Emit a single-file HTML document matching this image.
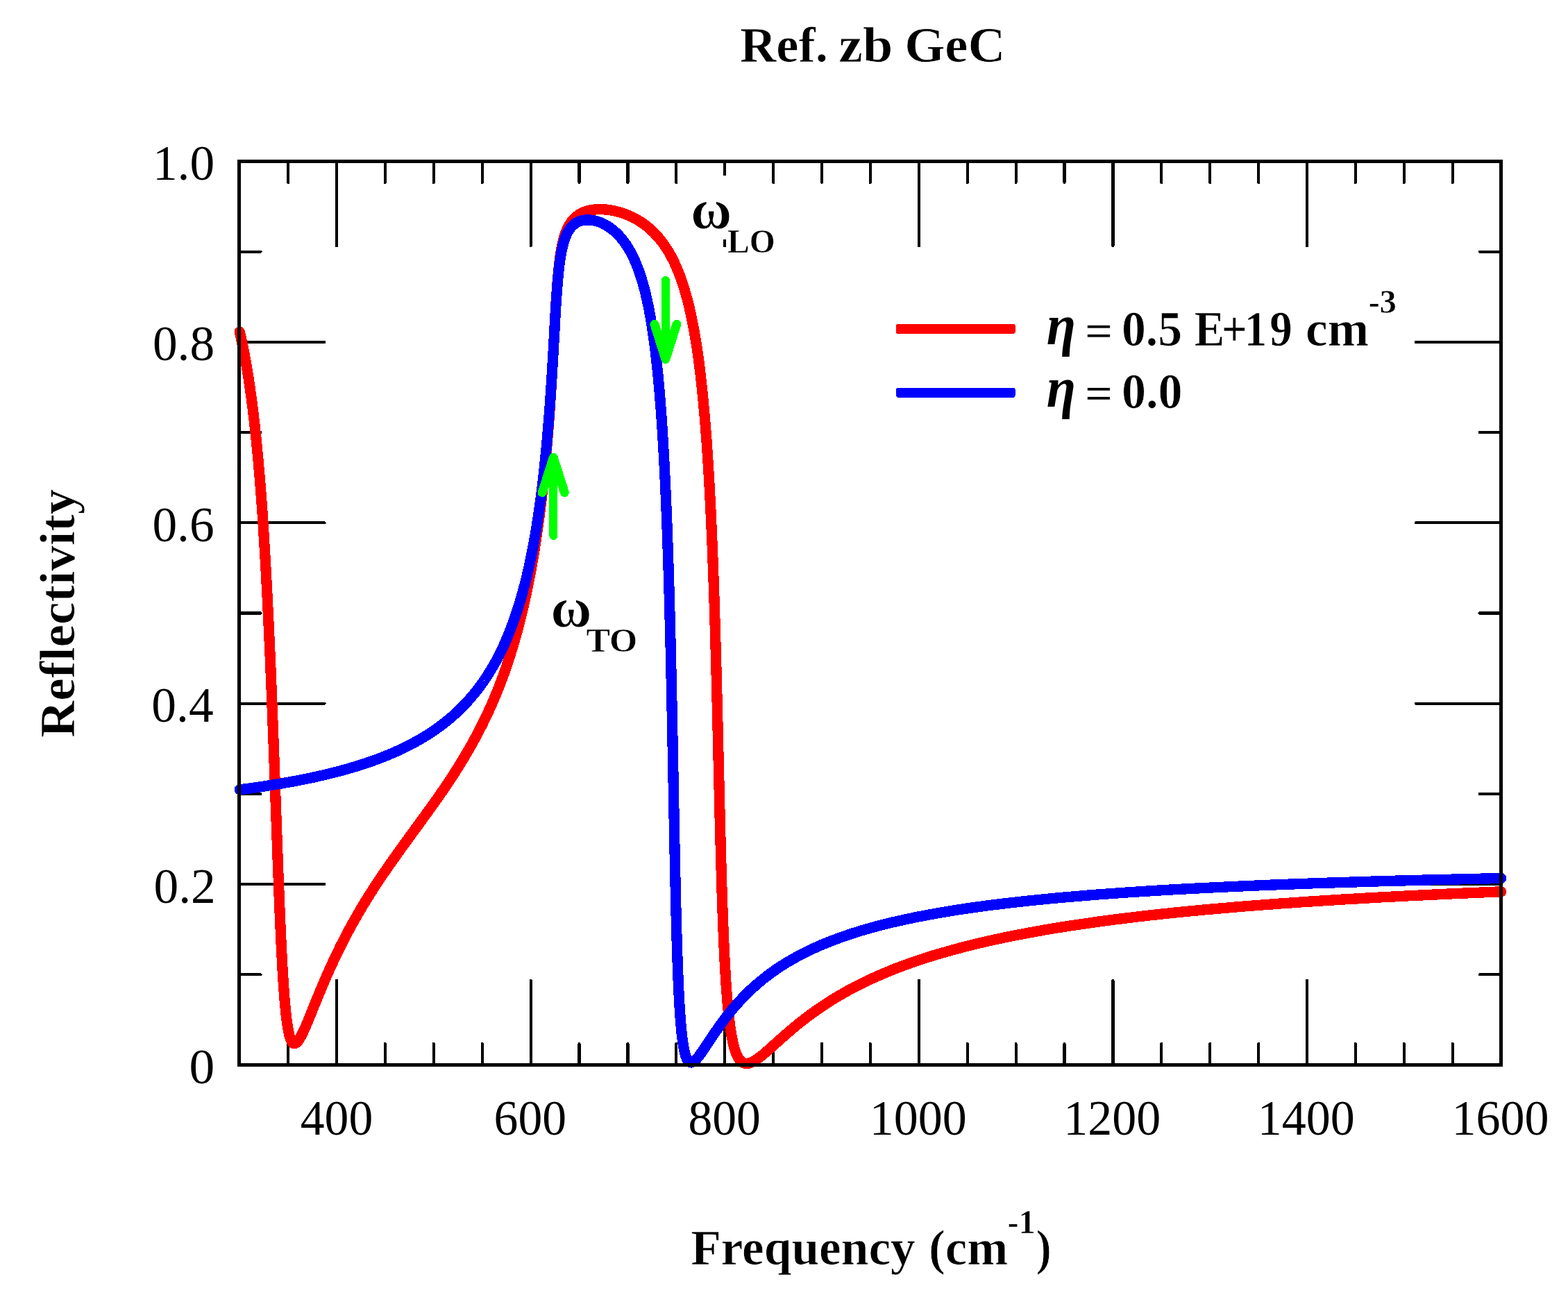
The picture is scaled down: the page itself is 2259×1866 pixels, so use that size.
<!DOCTYPE html>
<html lang="en"><head><meta charset="utf-8"><title>Ref. zb GeC</title>
<style>html,body{margin:0;padding:0;background:#fff;overflow:hidden}svg{display:block}text{font-family:"Liberation Serif",serif;fill:#000;font-size:70px}.b{font-weight:bold;stroke:#fff;stroke-width:.7px}.s{font-weight:bold;font-size:47px;stroke:#fff;stroke-width:.5px}.i{font-weight:bold;font-style:italic}.t{stroke:#000;stroke-width:4.20;stroke-linecap:round;fill:none}.c{fill:none;stroke-width:15.30;stroke-linecap:round;stroke-linejoin:round}.g{fill:none;stroke:#00ff00;stroke-width:12;stroke-linecap:round;stroke-linejoin:round}</style></head><body>
<svg shape-rendering="crispEdges" width="2259" height="1866" viewBox="0 0 2259 1866">
<rect x="0" y="0" width="2259" height="1866" fill="#fff"/>
<path class="t" d="M415.1,232.5v30.4M415.1,1534.5v-30.4M485.0,232.5v121.9M485.0,1534.5v-121.9M554.9,232.5v30.4M554.9,1534.5v-30.4M624.8,232.5v30.4M624.8,1534.5v-30.4M694.7,232.5v30.4M694.7,1534.5v-30.4M764.6,232.5v121.9M764.6,1534.5v-121.9M834.5,232.5v30.4M834.5,1534.5v-30.4M904.4,232.5v30.4M904.4,1534.5v-30.4M974.3,232.5v30.4M974.3,1534.5v-30.4M1044.2,232.5v121.9M1044.2,1534.5v-121.9M1114.1,232.5v30.4M1114.1,1534.5v-30.4M1184.0,232.5v30.4M1184.0,1534.5v-30.4M1253.9,232.5v30.4M1253.9,1534.5v-30.4M1323.8,232.5v121.9M1323.8,1534.5v-121.9M1393.7,232.5v30.4M1393.7,1534.5v-30.4M1463.6,232.5v30.4M1463.6,1534.5v-30.4M1533.5,232.5v30.4M1533.5,1534.5v-30.4M1603.4,232.5v121.9M1603.4,1534.5v-121.9M1673.3,232.5v30.4M1673.3,1534.5v-30.4M1743.2,232.5v30.4M1743.2,1534.5v-30.4M1813.1,232.5v30.4M1813.1,1534.5v-30.4M1883.0,232.5v121.9M1883.0,1534.5v-121.9M1952.9,232.5v30.4M1952.9,1534.5v-30.4M2022.8,232.5v30.4M2022.8,1534.5v-30.4M2092.7,232.5v30.4M2092.7,1534.5v-30.4M344.6,1404.3h30.9M2162.5,1404.3h-30.9M344.6,1274.1h122.9M2162.5,1274.1h-122.9M344.6,1143.9h30.9M2162.5,1143.9h-30.9M344.6,1013.7h122.9M2162.5,1013.7h-122.9M344.6,883.5h30.9M2162.5,883.5h-30.9M344.6,753.3h122.9M2162.5,753.3h-122.9M344.6,623.1h30.9M2162.5,623.1h-30.9M344.6,492.9h122.9M2162.5,492.9h-122.9M344.6,362.7h30.9M2162.5,362.7h-30.9"/>
<rect x="996" y="253" width="58" height="92" fill="#fff"/>
<path class="c" stroke="#ff0000" d="M345.2,478.1 L345.9,481.1 L346.6,484.1 L347.3,487.2 L348.0,490.4 L348.7,493.6 L349.4,496.9 L350.1,500.3 L350.8,503.8 L351.5,507.4 L352.2,511.0 L352.9,514.7 L353.6,518.5 L354.3,522.4 L355.0,526.4 L355.7,530.5 L356.4,534.7 L357.1,539.0 L357.8,543.4 L358.5,547.9 L359.2,552.5 L359.9,557.3 L360.6,562.2 L361.3,567.2 L362.0,572.3 L362.7,577.6 L363.4,583.0 L364.1,588.5 L364.8,594.2 L365.5,600.1 L366.2,606.1 L366.9,612.3 L367.6,618.7 L368.3,625.2 L369.0,631.9 L369.7,638.9 L370.4,646.0 L371.1,653.3 L371.8,660.9 L372.5,668.7 L373.2,676.7 L373.9,684.9 L374.6,693.4 L375.3,702.2 L376.0,711.2 L376.7,720.5 L377.4,730.1 L378.1,740.0 L378.8,750.2 L379.5,760.7 L380.1,771.5 L380.8,782.7 L381.5,794.2 L382.2,806.1 L382.9,818.4 L383.6,831.1 L384.3,844.1 L385.0,857.6 L385.7,871.4 L386.4,885.7 L387.1,900.4 L387.8,915.5 L388.5,931.1 L389.2,947.1 L389.9,963.5 L390.6,980.4 L391.3,997.7 L392.0,1015.3 L392.7,1033.4 L393.4,1051.8 L394.1,1070.6 L394.8,1089.6 L395.5,1108.9 L396.2,1128.3 L396.9,1147.9 L397.6,1167.6 L398.3,1187.2 L399.0,1206.7 L399.7,1226.1 L400.4,1245.1 L401.1,1263.8 L401.8,1282.0 L402.5,1299.7 L403.2,1316.7 L403.9,1333.0 L404.6,1348.5 L405.3,1363.3 L406.0,1377.1 L406.7,1390.1 L407.4,1402.2 L408.1,1413.4 L408.8,1423.8 L409.5,1433.3 L410.2,1442.0 L410.9,1449.9 L411.6,1457.1 L412.3,1463.5 L413.0,1469.4 L413.7,1474.6 L414.4,1479.2 L415.1,1483.3 L415.8,1487.0 L416.5,1490.1 L417.2,1492.9 L417.9,1495.3 L418.6,1497.3 L419.3,1499.0 L420.0,1500.4 L420.7,1501.5 L421.4,1502.4 L422.1,1503.0 L422.8,1503.4 L423.5,1503.7 L424.2,1503.7 L424.9,1503.6 L425.6,1503.4 L426.3,1503.0 L427.0,1502.5 L427.7,1501.9 L428.4,1501.1 L429.1,1500.3 L429.8,1499.4 L430.5,1498.4 L431.2,1497.3 L431.9,1496.2 L432.6,1495.0 L433.3,1493.8 L434.0,1492.5 L434.7,1491.1 L435.4,1489.7 L436.1,1488.3 L436.8,1486.8 L437.5,1485.4 L438.2,1483.8 L438.9,1482.3 L439.6,1480.7 L440.3,1479.1 L441.0,1477.5 L441.7,1475.9 L442.4,1474.2 L443.1,1472.6 L443.8,1470.9 L444.5,1469.2 L445.2,1467.5 L445.9,1465.8 L446.6,1464.1 L447.3,1462.4 L448.0,1460.7 L448.7,1459.0 L449.4,1457.3 L450.0,1455.5 L450.7,1453.8 L451.4,1452.1 L452.1,1450.4 L452.8,1448.6 L453.5,1446.9 L454.2,1445.2 L454.9,1443.5 L455.6,1441.8 L456.3,1440.0 L457.0,1438.3 L457.7,1436.6 L458.4,1434.9 L459.1,1433.2 L459.8,1431.5 L460.5,1429.9 L461.2,1428.2 L461.9,1426.5 L462.6,1424.8 L463.3,1423.2 L464.0,1421.5 L464.7,1419.8 L465.4,1418.2 L466.1,1416.6 L466.8,1414.9 L467.5,1413.3 L468.2,1411.7 L468.9,1410.1 L469.6,1408.5 L470.3,1406.9 L471.0,1405.3 L471.7,1403.7 L472.4,1402.1 L473.1,1400.5 L473.8,1399.0 L474.5,1397.4 L475.2,1395.8 L475.9,1394.3 L476.6,1392.8 L477.3,1391.2 L478.0,1389.7 L478.7,1388.2 L479.4,1386.7 L480.1,1385.2 L480.8,1383.7 L481.5,1382.2 L482.2,1380.7 L482.9,1379.2 L483.6,1377.8 L484.3,1376.3 L485.0,1374.8 L485.7,1373.4 L486.4,1371.9 L487.1,1370.5 L487.8,1369.1 L488.5,1367.7 L489.2,1366.2 L489.9,1364.8 L490.6,1363.4 L491.3,1362.0 L492.0,1360.6 L492.7,1359.3 L493.4,1357.9 L494.1,1356.5 L494.8,1355.1 L495.5,1353.8 L496.2,1352.4 L496.9,1351.1 L497.6,1349.7 L498.3,1348.4 L499.0,1347.1 L499.7,1345.7 L500.4,1344.4 L501.1,1343.1 L501.8,1341.8 L502.5,1340.5 L503.2,1339.2 L503.9,1337.9 L504.6,1336.6 L505.3,1335.4 L506.0,1334.1 L506.7,1332.8 L507.4,1331.5 L508.1,1330.3 L508.8,1329.0 L509.5,1327.8 L510.2,1326.5 L510.9,1325.3 L511.6,1324.1 L512.3,1322.8 L513.0,1321.6 L515.8,1316.8 L518.6,1312.0 L521.3,1307.3 L524.1,1302.6 L526.9,1298.1 L529.7,1293.6 L532.5,1289.1 L535.3,1284.7 L538.1,1280.3 L540.9,1276.0 L543.7,1271.8 L546.5,1267.6 L549.3,1263.4 L552.1,1259.3 L554.9,1255.2 L557.7,1251.1 L560.5,1247.1 L563.3,1243.1 L566.1,1239.1 L568.9,1235.2 L571.7,1231.2 L574.5,1227.3 L577.3,1223.4 L580.1,1219.6 L582.9,1215.7 L585.7,1211.9 L588.5,1208.0 L591.2,1204.2 L594.0,1200.4 L596.8,1196.5 L599.6,1192.7 L602.4,1188.9 L605.2,1185.0 L608.0,1181.2 L610.8,1177.3 L613.6,1173.5 L616.4,1169.6 L619.2,1165.7 L622.0,1161.8 L624.8,1157.9 L627.6,1154.0 L630.4,1150.0 L633.2,1146.0 L636.0,1141.9 L638.8,1137.9 L641.6,1133.8 L644.4,1129.6 L647.2,1125.5 L650.0,1121.2 L652.8,1116.9 L655.6,1112.6 L658.4,1108.2 L661.1,1103.8 L663.9,1099.3 L666.7,1094.7 L669.5,1090.0 L672.3,1085.3 L675.1,1080.5 L677.9,1075.6 L680.7,1070.6 L683.5,1065.5 L686.3,1060.4 L689.1,1055.1 L691.9,1049.6 L694.7,1044.1 L697.5,1038.4 L700.3,1032.6 L703.1,1026.7 L705.9,1020.5 L708.7,1014.2 L711.5,1007.8 L714.3,1001.1 L717.1,994.2 L719.9,987.1 L722.7,979.8 L725.5,972.2 L728.3,964.4 L731.0,956.2 L733.8,947.8 L736.6,939.0 L739.4,929.8 L742.2,920.2 L745.0,910.2 L747.8,899.7 L750.6,888.6 L753.4,877.0 L756.2,864.8 L759.0,851.8 L761.8,838.0 L764.6,823.4 L765.3,819.6 L766.0,815.7 L766.7,811.7 L767.4,807.7 L768.1,803.6 L768.8,799.5 L769.5,795.2 L770.2,790.9 L770.9,786.5 L771.6,782.0 L772.3,777.4 L773.0,772.8 L773.7,768.0 L774.4,763.1 L775.1,758.2 L775.8,753.1 L776.5,747.9 L777.2,742.6 L777.9,737.2 L778.6,731.6 L779.3,725.9 L780.0,720.1 L780.7,714.1 L781.4,708.0 L782.1,701.7 L782.8,695.3 L783.5,688.6 L784.2,681.8 L784.9,674.8 L785.6,667.6 L786.3,660.1 L787.0,652.5 L787.7,644.5 L788.4,636.4 L789.1,627.9 L789.8,619.2 L790.5,610.1 L791.2,600.8 L791.9,591.1 L792.6,581.0 L793.3,570.6 L794.0,559.8 L794.7,548.6 L795.4,537.1 L796.1,525.2 L796.8,513.0 L797.5,500.5 L798.2,487.9 L798.9,475.3 L799.5,462.8 L800.2,450.7 L800.9,439.0 L801.6,428.0 L802.3,417.9 L803.0,408.5 L803.7,400.0 L804.4,392.4 L805.1,385.5 L805.8,379.3 L806.5,373.7 L807.2,368.7 L807.9,364.1 L808.6,360.0 L809.3,356.2 L810.0,352.8 L810.7,349.7 L811.4,346.8 L812.1,344.1 L812.8,341.7 L813.5,339.4 L814.2,337.3 L814.9,335.3 L815.6,333.5 L816.3,331.8 L817.0,330.2 L817.7,328.7 L818.4,327.3 L819.1,325.9 L819.8,324.7 L820.5,323.5 L821.2,322.4 L821.9,321.3 L822.6,320.3 L823.3,319.4 L824.0,318.5 L824.7,317.6 L825.4,316.8 L826.1,316.0 L826.8,315.3 L827.5,314.6 L828.2,313.9 L828.9,313.2 L829.6,312.6 L830.3,312.0 L831.0,311.5 L831.7,311.0 L832.4,310.4 L833.1,310.0 L833.8,309.5 L834.5,309.0 L835.2,308.6 L835.9,308.2 L836.6,307.8 L837.3,307.4 L838.0,307.1 L838.7,306.8 L839.4,306.4 L840.1,306.1 L840.8,305.8 L841.5,305.5 L842.2,305.3 L842.9,305.0 L843.6,304.8 L844.3,304.5 L845.0,304.3 L845.7,304.1 L846.4,303.9 L847.1,303.7 L847.8,303.5 L848.5,303.4 L849.2,303.2 L849.9,303.0 L850.6,302.9 L851.3,302.8 L852.0,302.6 L852.7,302.5 L853.4,302.4 L854.1,302.3 L854.8,302.2 L855.5,302.1 L856.2,302.1 L856.9,302.0 L857.6,301.9 L858.3,301.9 L859.0,301.8 L859.7,301.8 L860.4,301.7 L861.1,301.7 L861.8,301.7 L862.5,301.6 L863.2,301.6 L863.9,301.6 L864.6,301.6 L865.3,301.6 L866.0,301.6 L866.7,301.7 L867.4,301.7 L868.1,301.7 L868.8,301.7 L869.5,301.8 L870.1,301.8 L870.8,301.9 L871.5,301.9 L872.2,302.0 L872.9,302.0 L873.6,302.1 L874.3,302.2 L875.0,302.3 L875.7,302.3 L876.4,302.4 L877.1,302.5 L877.8,302.6 L878.5,302.7 L879.2,302.8 L879.9,302.9 L880.6,303.1 L881.3,303.2 L882.0,303.3 L882.7,303.4 L883.4,303.6 L884.1,303.7 L884.8,303.9 L885.5,304.0 L886.2,304.2 L886.9,304.3 L887.6,304.5 L888.3,304.7 L889.0,304.9 L889.7,305.0 L890.4,305.2 L891.1,305.4 L891.8,305.6 L892.5,305.8 L893.2,306.0 L893.9,306.2 L894.6,306.4 L895.3,306.6 L896.0,306.9 L896.7,307.1 L897.4,307.3 L898.1,307.6 L898.8,307.8 L899.5,308.1 L900.2,308.3 L900.9,308.6 L901.6,308.8 L902.3,309.1 L903.0,309.4 L903.7,309.7 L904.4,310.0 L905.1,310.2 L905.8,310.5 L906.5,310.8 L907.2,311.1 L907.9,311.5 L908.6,311.8 L909.3,312.1 L910.0,312.4 L910.7,312.8 L911.4,313.1 L912.1,313.5 L912.8,313.8 L913.5,314.2 L914.2,314.5 L914.9,314.9 L915.6,315.3 L916.3,315.7 L917.0,316.1 L917.7,316.5 L918.4,316.9 L919.1,317.3 L919.8,317.7 L920.5,318.1 L921.2,318.5 L921.9,319.0 L922.6,319.4 L923.3,319.9 L924.0,320.3 L924.7,320.8 L925.4,321.3 L926.1,321.8 L926.8,322.2 L927.5,322.7 L928.2,323.2 L928.9,323.8 L929.6,324.3 L930.3,324.8 L931.0,325.3 L931.7,325.9 L932.4,326.5 L933.1,327.0 L933.8,327.6 L934.5,328.2 L935.2,328.8 L935.9,329.4 L936.6,330.0 L937.3,330.6 L938.0,331.2 L938.7,331.9 L939.3,332.5 L940.0,333.2 L940.7,333.9 L941.4,334.5 L942.1,335.2 L942.8,336.0 L943.5,336.7 L944.2,337.4 L944.9,338.1 L945.6,338.9 L946.3,339.7 L947.0,340.4 L947.7,341.2 L948.4,342.0 L949.1,342.9 L949.8,343.7 L950.5,344.5 L951.2,345.4 L951.9,346.3 L952.6,347.2 L953.3,348.1 L954.0,349.0 L954.7,350.0 L955.4,350.9 L956.1,351.9 L956.8,352.9 L957.5,353.9 L958.2,354.9 L958.9,355.9 L959.6,357.0 L960.3,358.1 L961.0,359.2 L961.7,360.3 L962.4,361.5 L963.1,362.6 L963.8,363.8 L964.5,365.0 L965.2,366.2 L965.9,367.5 L966.6,368.8 L967.3,370.1 L968.0,371.4 L968.7,372.8 L969.4,374.1 L970.1,375.5 L970.8,377.0 L971.5,378.4 L972.2,379.9 L972.9,381.5 L973.6,383.0 L974.3,384.6 L975.0,386.2 L975.7,387.9 L976.4,389.5 L977.1,391.3 L977.8,393.0 L978.5,394.8 L979.2,396.6 L979.9,398.5 L980.6,400.4 L981.3,402.4 L982.0,404.4 L982.7,406.4 L983.4,408.5 L984.1,410.7 L984.8,412.9 L985.5,415.1 L986.2,417.4 L986.9,419.8 L987.6,422.2 L988.3,424.6 L989.0,427.1 L989.7,429.7 L990.4,432.4 L991.1,435.1 L991.8,437.9 L992.5,440.8 L993.2,443.7 L993.9,446.7 L994.6,449.8 L995.3,453.0 L996.0,456.2 L996.7,459.6 L997.4,463.0 L998.1,466.6 L998.8,470.2 L999.5,473.9 L1000.2,477.8 L1000.9,481.8 L1001.6,485.9 L1002.3,490.1 L1003.0,494.4 L1003.7,498.9 L1004.4,503.5 L1005.1,508.3 L1005.8,513.2 L1006.5,518.3 L1007.2,523.5 L1007.9,529.0 L1008.6,534.6 L1009.2,540.4 L1009.9,546.4 L1010.6,552.7 L1011.3,559.1 L1012.0,565.8 L1012.7,572.8 L1013.4,580.0 L1014.1,587.6 L1014.8,595.4 L1015.5,603.5 L1016.2,612.0 L1016.9,620.9 L1017.6,630.1 L1018.3,639.7 L1019.0,649.8 L1019.7,660.3 L1020.4,671.3 L1021.1,682.9 L1021.8,695.0 L1022.5,707.7 L1023.2,721.1 L1023.9,735.1 L1024.6,749.9 L1025.3,765.5 L1026.0,782.0 L1026.7,799.3 L1027.4,817.7 L1028.1,837.1 L1028.8,857.5 L1029.5,879.2 L1030.2,902.0 L1030.9,926.1 L1031.6,951.4 L1032.3,977.8 L1033.0,1005.4 L1033.7,1033.9 L1034.4,1063.1 L1035.1,1092.7 L1035.8,1122.4 L1036.5,1151.8 L1037.2,1180.4 L1037.9,1208.0 L1038.6,1234.2 L1039.3,1258.9 L1040.0,1282.0 L1040.7,1303.3 L1041.4,1323.0 L1042.1,1341.1 L1042.8,1357.7 L1043.5,1372.8 L1044.2,1386.6 L1044.9,1399.3 L1045.6,1410.8 L1046.3,1421.4 L1047.0,1431.0 L1047.7,1439.8 L1048.4,1447.9 L1049.1,1455.3 L1049.8,1462.1 L1050.5,1468.3 L1051.2,1474.0 L1051.9,1479.3 L1052.6,1484.1 L1053.3,1488.5 L1054.0,1492.6 L1054.7,1496.4 L1055.4,1499.8 L1056.1,1503.0 L1056.8,1505.9 L1057.5,1508.6 L1058.2,1511.0 L1058.9,1513.3 L1059.6,1515.4 L1060.3,1517.3 L1061.0,1519.0 L1061.7,1520.6 L1062.4,1522.1 L1063.1,1523.4 L1063.8,1524.6 L1064.5,1525.7 L1065.2,1526.7 L1065.9,1527.5 L1066.6,1528.3 L1067.3,1529.0 L1068.0,1529.7 L1068.7,1530.2 L1069.4,1530.7 L1070.1,1531.1 L1070.8,1531.5 L1071.5,1531.8 L1072.2,1532.0 L1072.9,1532.2 L1073.6,1532.3 L1074.3,1532.4 L1075.0,1532.5 L1075.7,1532.5 L1076.4,1532.4 L1077.1,1532.4 L1077.8,1532.3 L1078.5,1532.1 L1079.1,1532.0 L1079.8,1531.8 L1080.5,1531.6 L1081.2,1531.3 L1081.9,1531.0 L1082.6,1530.7 L1083.3,1530.4 L1084.0,1530.1 L1084.7,1529.7 L1085.4,1529.4 L1086.1,1529.0 L1086.8,1528.6 L1087.5,1528.2 L1088.2,1527.7 L1088.9,1527.3 L1089.6,1526.8 L1090.3,1526.4 L1091.0,1525.9 L1091.7,1525.4 L1092.4,1524.9 L1093.1,1524.4 L1093.8,1523.8 L1094.5,1523.3 L1095.2,1522.8 L1095.9,1522.2 L1096.6,1521.7 L1097.3,1521.1 L1098.0,1520.5 L1098.7,1520.0 L1099.4,1519.4 L1100.1,1518.8 L1100.8,1518.2 L1101.5,1517.6 L1102.2,1517.1 L1102.9,1516.5 L1103.6,1515.9 L1104.3,1515.2 L1105.0,1514.6 L1105.7,1514.0 L1106.4,1513.4 L1107.1,1512.8 L1107.8,1512.2 L1108.5,1511.6 L1109.2,1511.0 L1109.9,1510.3 L1110.6,1509.7 L1111.3,1509.1 L1112.0,1508.5 L1112.7,1507.8 L1113.4,1507.2 L1114.1,1506.6 L1114.8,1506.0 L1115.5,1505.3 L1116.2,1504.7 L1116.9,1504.1 L1117.6,1503.4 L1118.3,1502.8 L1119.0,1502.2 L1119.7,1501.6 L1120.4,1500.9 L1121.1,1500.3 L1121.8,1499.7 L1122.5,1499.1 L1123.2,1498.4 L1123.9,1497.8 L1124.6,1497.2 L1125.3,1496.6 L1126.0,1495.9 L1126.7,1495.3 L1127.4,1494.7 L1128.1,1494.1 L1135.1,1488.0 L1142.1,1482.0 L1149.0,1476.3 L1156.0,1470.7 L1163.0,1465.3 L1170.0,1460.2 L1177.0,1455.2 L1184.0,1450.4 L1191.0,1445.7 L1198.0,1441.3 L1205.0,1437.0 L1212.0,1432.9 L1219.0,1428.9 L1225.9,1425.1 L1232.9,1421.4 L1239.9,1417.9 L1246.9,1414.5 L1253.9,1411.2 L1260.9,1408.0 L1267.9,1404.9 L1274.9,1401.9 L1281.9,1399.0 L1288.8,1396.2 L1295.8,1393.5 L1302.8,1390.9 L1309.8,1388.4 L1316.8,1385.9 L1323.8,1383.6 L1330.8,1381.3 L1337.8,1379.0 L1344.8,1376.8 L1351.8,1374.7 L1358.8,1372.7 L1365.7,1370.7 L1372.7,1368.7 L1379.7,1366.9 L1386.7,1365.0 L1393.7,1363.2 L1400.7,1361.5 L1407.7,1359.8 L1414.7,1358.1 L1421.7,1356.5 L1428.6,1354.9 L1435.6,1353.4 L1442.6,1351.9 L1449.6,1350.4 L1456.6,1349.0 L1463.6,1347.6 L1470.6,1346.3 L1477.6,1344.9 L1484.6,1343.6 L1491.6,1342.4 L1498.5,1341.1 L1505.5,1339.9 L1512.5,1338.7 L1519.5,1337.6 L1526.5,1336.4 L1533.5,1335.3 L1540.5,1334.2 L1547.5,1333.1 L1554.5,1332.1 L1561.5,1331.1 L1568.5,1330.1 L1575.4,1329.1 L1582.4,1328.1 L1589.4,1327.2 L1596.4,1326.2 L1603.4,1325.3 L1610.4,1324.4 L1617.4,1323.6 L1624.4,1322.7 L1631.4,1321.9 L1638.3,1321.0 L1645.3,1320.2 L1652.3,1319.4 L1659.3,1318.6 L1666.3,1317.9 L1673.3,1317.1 L1680.3,1316.4 L1687.3,1315.6 L1694.3,1314.9 L1701.3,1314.2 L1708.2,1313.5 L1715.2,1312.8 L1722.2,1312.2 L1729.2,1311.5 L1736.2,1310.8 L1743.2,1310.2 L1750.2,1309.6 L1757.2,1309.0 L1764.2,1308.4 L1771.2,1307.8 L1778.1,1307.2 L1785.1,1306.6 L1792.1,1306.0 L1799.1,1305.5 L1806.1,1304.9 L1813.1,1304.4 L1820.1,1303.8 L1827.1,1303.3 L1834.1,1302.8 L1841.1,1302.3 L1848.0,1301.7 L1855.0,1301.3 L1862.0,1300.8 L1869.0,1300.3 L1876.0,1299.8 L1883.0,1299.3 L1890.0,1298.9 L1897.0,1298.4 L1904.0,1298.0 L1911.0,1297.5 L1918.0,1297.1 L1924.9,1296.6 L1931.9,1296.2 L1938.9,1295.8 L1945.9,1295.4 L1952.9,1295.0 L1959.9,1294.6 L1966.9,1294.2 L1973.9,1293.8 L1980.9,1293.4 L1987.8,1293.0 L1994.8,1292.6 L2001.8,1292.3 L2008.8,1291.9 L2015.8,1291.5 L2022.8,1291.2 L2029.8,1290.8 L2036.8,1290.5 L2043.8,1290.1 L2050.8,1289.8 L2057.8,1289.4 L2064.7,1289.1 L2071.7,1288.8 L2078.7,1288.5 L2085.7,1288.1 L2092.7,1287.8 L2099.7,1287.5 L2106.7,1287.2 L2113.7,1286.9 L2120.7,1286.6 L2127.6,1286.3 L2134.6,1286.0 L2141.6,1285.7 L2148.6,1285.4 L2155.6,1285.1 L2162.6,1284.9"/>
<path class="c" stroke="#0000ff" d="M345.2,1137.8 L345.9,1137.7 L346.6,1137.7 L347.3,1137.6 L348.0,1137.5 L348.7,1137.4 L349.4,1137.3 L350.1,1137.2 L350.8,1137.1 L351.5,1137.0 L352.2,1136.9 L352.9,1136.8 L353.6,1136.7 L354.3,1136.7 L355.0,1136.6 L355.7,1136.5 L356.4,1136.4 L357.1,1136.3 L357.8,1136.2 L358.5,1136.1 L359.2,1136.0 L359.9,1135.9 L360.6,1135.8 L361.3,1135.7 L362.0,1135.6 L362.7,1135.5 L363.4,1135.4 L364.1,1135.3 L364.8,1135.2 L365.5,1135.1 L366.2,1135.0 L366.9,1134.9 L367.6,1134.8 L368.3,1134.7 L369.0,1134.6 L369.7,1134.5 L370.4,1134.4 L371.1,1134.3 L371.8,1134.2 L372.5,1134.1 L373.2,1134.0 L373.9,1133.9 L374.6,1133.8 L375.3,1133.7 L376.0,1133.6 L376.7,1133.5 L377.4,1133.4 L378.1,1133.3 L378.8,1133.2 L379.5,1133.1 L380.1,1133.0 L380.8,1132.9 L381.5,1132.8 L382.2,1132.7 L382.9,1132.6 L383.6,1132.5 L384.3,1132.4 L385.0,1132.3 L385.7,1132.1 L386.4,1132.0 L387.1,1131.9 L387.8,1131.8 L388.5,1131.7 L389.2,1131.6 L389.9,1131.5 L390.6,1131.4 L391.3,1131.3 L392.0,1131.2 L392.7,1131.0 L393.4,1130.9 L394.1,1130.8 L394.8,1130.7 L395.5,1130.6 L396.2,1130.5 L396.9,1130.4 L397.6,1130.3 L398.3,1130.1 L399.0,1130.0 L399.7,1129.9 L400.4,1129.8 L401.1,1129.7 L401.8,1129.6 L402.5,1129.4 L403.2,1129.3 L403.9,1129.2 L404.6,1129.1 L405.3,1129.0 L406.0,1128.9 L406.7,1128.7 L407.4,1128.6 L408.1,1128.5 L408.8,1128.4 L409.5,1128.3 L410.2,1128.1 L410.9,1128.0 L411.6,1127.9 L412.3,1127.8 L413.0,1127.6 L413.7,1127.5 L414.4,1127.4 L415.1,1127.3 L415.8,1127.1 L416.5,1127.0 L417.2,1126.9 L417.9,1126.8 L418.6,1126.6 L419.3,1126.5 L420.0,1126.4 L420.7,1126.2 L421.4,1126.1 L422.1,1126.0 L422.8,1125.9 L423.5,1125.7 L424.2,1125.6 L424.9,1125.5 L425.6,1125.3 L426.3,1125.2 L427.0,1125.1 L427.7,1124.9 L428.4,1124.8 L429.1,1124.7 L429.8,1124.5 L430.5,1124.4 L431.2,1124.3 L431.9,1124.1 L432.6,1124.0 L433.3,1123.9 L434.0,1123.7 L434.7,1123.6 L435.4,1123.4 L436.1,1123.3 L436.8,1123.2 L437.5,1123.0 L438.2,1122.9 L438.9,1122.7 L439.6,1122.6 L440.3,1122.5 L441.0,1122.3 L441.7,1122.2 L442.4,1122.0 L443.1,1121.9 L443.8,1121.7 L444.5,1121.6 L445.2,1121.4 L445.9,1121.3 L446.6,1121.2 L447.3,1121.0 L448.0,1120.9 L448.7,1120.7 L449.4,1120.6 L450.0,1120.4 L450.7,1120.3 L451.4,1120.1 L452.1,1120.0 L452.8,1119.8 L453.5,1119.7 L454.2,1119.5 L454.9,1119.4 L455.6,1119.2 L456.3,1119.0 L457.0,1118.9 L457.7,1118.7 L458.4,1118.6 L459.1,1118.4 L459.8,1118.3 L460.5,1118.1 L461.2,1117.9 L461.9,1117.8 L462.6,1117.6 L463.3,1117.5 L464.0,1117.3 L464.7,1117.1 L465.4,1117.0 L466.1,1116.8 L466.8,1116.6 L467.5,1116.5 L468.2,1116.3 L468.9,1116.2 L469.6,1116.0 L470.3,1115.8 L471.0,1115.7 L471.7,1115.5 L472.4,1115.3 L473.1,1115.1 L473.8,1115.0 L474.5,1114.8 L475.2,1114.6 L475.9,1114.5 L476.6,1114.3 L477.3,1114.1 L478.0,1113.9 L478.7,1113.8 L479.4,1113.6 L480.1,1113.4 L480.8,1113.2 L481.5,1113.1 L482.2,1112.9 L482.9,1112.7 L483.6,1112.5 L484.3,1112.3 L485.0,1112.2 L485.7,1112.0 L486.4,1111.8 L487.1,1111.6 L487.8,1111.4 L488.5,1111.2 L489.2,1111.1 L489.9,1110.9 L490.6,1110.7 L491.3,1110.5 L492.0,1110.3 L492.7,1110.1 L493.4,1109.9 L494.1,1109.7 L494.8,1109.5 L495.5,1109.3 L496.2,1109.1 L496.9,1109.0 L497.6,1108.8 L498.3,1108.6 L499.0,1108.4 L499.7,1108.2 L500.4,1108.0 L501.1,1107.8 L501.8,1107.6 L502.5,1107.4 L503.2,1107.2 L503.9,1107.0 L504.6,1106.8 L505.3,1106.6 L506.0,1106.4 L506.7,1106.1 L507.4,1105.9 L508.1,1105.7 L508.8,1105.5 L509.5,1105.3 L510.2,1105.1 L510.9,1104.9 L511.6,1104.7 L512.3,1104.5 L513.0,1104.3 L515.8,1103.4 L518.6,1102.5 L521.3,1101.6 L524.1,1100.7 L526.9,1099.8 L529.7,1098.8 L532.5,1097.9 L535.3,1096.9 L538.1,1095.9 L540.9,1094.9 L543.7,1093.9 L546.5,1092.8 L549.3,1091.7 L552.1,1090.7 L554.9,1089.5 L557.7,1088.4 L560.5,1087.3 L563.3,1086.1 L566.1,1084.9 L568.9,1083.7 L571.7,1082.4 L574.5,1081.1 L577.3,1079.8 L580.1,1078.5 L582.9,1077.2 L585.7,1075.8 L588.5,1074.4 L591.2,1072.9 L594.0,1071.5 L596.8,1070.0 L599.6,1068.4 L602.4,1066.9 L605.2,1065.3 L608.0,1063.6 L610.8,1061.9 L613.6,1060.2 L616.4,1058.5 L619.2,1056.7 L622.0,1054.8 L624.8,1052.9 L627.6,1051.0 L630.4,1049.0 L633.2,1047.0 L636.0,1044.9 L638.8,1042.8 L641.6,1040.6 L644.4,1038.3 L647.2,1036.0 L650.0,1033.6 L652.8,1031.2 L655.6,1028.7 L658.4,1026.1 L661.1,1023.5 L663.9,1020.7 L666.7,1017.9 L669.5,1015.0 L672.3,1012.1 L675.1,1009.0 L677.9,1005.8 L680.7,1002.5 L683.5,999.2 L686.3,995.7 L689.1,992.1 L691.9,988.3 L694.7,984.5 L697.5,980.5 L700.3,976.3 L703.1,972.0 L705.9,967.5 L708.7,962.9 L711.5,958.1 L714.3,953.1 L717.1,947.8 L719.9,942.4 L722.7,936.7 L725.5,930.8 L728.3,924.5 L731.0,918.0 L733.8,911.2 L736.6,904.0 L739.4,896.5 L742.2,888.6 L745.0,880.2 L747.8,871.3 L750.6,862.0 L753.4,852.0 L756.2,841.4 L759.0,830.1 L761.8,818.0 L764.6,805.0 L765.3,801.6 L766.0,798.1 L766.7,794.6 L767.4,791.0 L768.1,787.3 L768.8,783.6 L769.5,779.7 L770.2,775.8 L770.9,771.9 L771.6,767.8 L772.3,763.6 L773.0,759.4 L773.7,755.0 L774.4,750.6 L775.1,746.0 L775.8,741.3 L776.5,736.6 L777.2,731.7 L777.9,726.6 L778.6,721.5 L779.3,716.2 L780.0,710.8 L780.7,705.2 L781.4,699.5 L782.1,693.6 L782.8,687.6 L783.5,681.3 L784.2,674.9 L784.9,668.3 L785.6,661.5 L786.3,654.4 L787.0,647.1 L787.7,639.6 L788.4,631.8 L789.1,623.7 L789.8,615.4 L790.5,606.7 L791.2,597.7 L791.9,588.4 L792.6,578.7 L793.3,568.6 L794.0,558.2 L794.7,547.3 L795.4,536.1 L796.1,524.6 L796.8,512.7 L797.5,500.6 L798.2,488.3 L798.9,475.9 L799.5,463.8 L800.2,451.9 L800.9,440.5 L801.6,429.8 L802.3,419.9 L803.0,410.8 L803.7,402.6 L804.4,395.1 L805.1,388.5 L805.8,382.5 L806.5,377.1 L807.2,372.3 L807.9,367.9 L808.6,364.0 L809.3,360.4 L810.0,357.2 L810.7,354.2 L811.4,351.5 L812.1,349.0 L812.8,346.7 L813.5,344.6 L814.2,342.7 L814.9,340.9 L815.6,339.2 L816.3,337.7 L817.0,336.2 L817.7,334.9 L818.4,333.6 L819.1,332.5 L819.8,331.4 L820.5,330.3 L821.2,329.4 L821.9,328.5 L822.6,327.6 L823.3,326.8 L824.0,326.1 L824.7,325.4 L825.4,324.7 L826.1,324.1 L826.8,323.5 L827.5,322.9 L828.2,322.4 L828.9,321.9 L829.6,321.5 L830.3,321.1 L831.0,320.7 L831.7,320.3 L832.4,319.9 L833.1,319.6 L833.8,319.3 L834.5,319.0 L835.2,318.8 L835.9,318.5 L836.6,318.3 L837.3,318.1 L838.0,317.9 L838.7,317.7 L839.4,317.6 L840.1,317.4 L840.8,317.3 L841.5,317.2 L842.2,317.1 L842.9,317.0 L843.6,317.0 L844.3,316.9 L845.0,316.9 L845.7,316.9 L846.4,316.9 L847.1,316.9 L847.8,316.9 L848.5,316.9 L849.2,316.9 L849.9,317.0 L850.6,317.0 L851.3,317.1 L852.0,317.2 L852.7,317.3 L853.4,317.4 L854.1,317.5 L854.8,317.6 L855.5,317.8 L856.2,317.9 L856.9,318.1 L857.6,318.2 L858.3,318.4 L859.0,318.6 L859.7,318.8 L860.4,319.0 L861.1,319.2 L861.8,319.4 L862.5,319.7 L863.2,319.9 L863.9,320.2 L864.6,320.5 L865.3,320.7 L866.0,321.0 L866.7,321.3 L867.4,321.6 L868.1,321.9 L868.8,322.3 L869.5,322.6 L870.1,322.9 L870.8,323.3 L871.5,323.7 L872.2,324.1 L872.9,324.4 L873.6,324.8 L874.3,325.3 L875.0,325.7 L875.7,326.1 L876.4,326.6 L877.1,327.0 L877.8,327.5 L878.5,328.0 L879.2,328.5 L879.9,329.0 L880.6,329.5 L881.3,330.0 L882.0,330.6 L882.7,331.1 L883.4,331.7 L884.1,332.3 L884.8,332.9 L885.5,333.5 L886.2,334.1 L886.9,334.7 L887.6,335.4 L888.3,336.0 L889.0,336.7 L889.7,337.4 L890.4,338.1 L891.1,338.9 L891.8,339.6 L892.5,340.4 L893.2,341.1 L893.9,341.9 L894.6,342.7 L895.3,343.6 L896.0,344.4 L896.7,345.3 L897.4,346.2 L898.1,347.1 L898.8,348.0 L899.5,349.0 L900.2,349.9 L900.9,350.9 L901.6,351.9 L902.3,353.0 L903.0,354.0 L903.7,355.1 L904.4,356.2 L905.1,357.4 L905.8,358.5 L906.5,359.7 L907.2,360.9 L907.9,362.2 L908.6,363.5 L909.3,364.8 L910.0,366.1 L910.7,367.5 L911.4,368.9 L912.1,370.3 L912.8,371.8 L913.5,373.3 L914.2,374.8 L914.9,376.4 L915.6,378.0 L916.3,379.7 L917.0,381.4 L917.7,383.1 L918.4,384.9 L919.1,386.8 L919.8,388.6 L920.5,390.6 L921.2,392.6 L921.9,394.6 L922.6,396.7 L923.3,398.9 L924.0,401.1 L924.7,403.3 L925.4,405.7 L926.1,408.1 L926.8,410.6 L927.5,413.1 L928.2,415.7 L928.9,418.4 L929.6,421.2 L930.3,424.1 L931.0,427.0 L931.7,430.1 L932.4,433.2 L933.1,436.4 L933.8,439.8 L934.5,443.2 L935.2,446.8 L935.9,450.5 L936.6,454.3 L937.3,458.2 L938.0,462.3 L938.7,466.5 L939.3,470.8 L940.0,475.3 L940.7,480.0 L941.4,484.9 L942.1,489.9 L942.8,495.1 L943.5,500.6 L944.2,506.2 L944.9,512.1 L945.6,518.2 L946.3,524.5 L947.0,531.2 L947.7,538.1 L948.4,545.3 L949.1,552.8 L949.8,560.7 L950.5,568.9 L951.2,577.5 L951.9,586.5 L952.6,596.0 L953.3,605.9 L954.0,616.3 L954.7,627.3 L955.4,638.8 L956.1,651.0 L956.8,663.8 L957.5,677.3 L958.2,691.6 L958.9,706.8 L959.6,722.8 L960.3,739.9 L961.0,757.9 L961.7,777.2 L962.4,797.6 L963.1,819.5 L963.8,842.7 L964.5,867.5 L965.2,893.9 L965.9,922.0 L966.6,951.8 L967.3,983.5 L968.0,1016.8 L968.7,1051.6 L969.4,1087.7 L970.1,1124.5 L970.8,1161.4 L971.5,1197.8 L972.2,1233.0 L972.9,1266.2 L973.6,1297.1 L974.3,1325.2 L975.0,1350.6 L975.7,1373.3 L976.4,1393.4 L977.1,1411.2 L977.8,1426.8 L978.5,1440.5 L979.2,1452.6 L979.9,1463.2 L980.6,1472.5 L981.3,1480.6 L982.0,1487.8 L982.7,1494.1 L983.4,1499.6 L984.1,1504.4 L984.8,1508.6 L985.5,1512.3 L986.2,1515.5 L986.9,1518.3 L987.6,1520.7 L988.3,1522.8 L989.0,1524.5 L989.7,1526.0 L990.4,1527.3 L991.1,1528.3 L991.8,1529.1 L992.5,1529.8 L993.2,1530.2 L993.9,1530.6 L994.6,1530.8 L995.3,1530.9 L996.0,1530.9 L996.7,1530.7 L997.4,1530.5 L998.1,1530.2 L998.8,1529.8 L999.5,1529.4 L1000.2,1528.9 L1000.9,1528.3 L1001.6,1527.7 L1002.3,1527.1 L1003.0,1526.4 L1003.7,1525.6 L1004.4,1524.8 L1005.1,1524.0 L1005.8,1523.2 L1006.5,1522.3 L1007.2,1521.5 L1007.9,1520.5 L1008.6,1519.6 L1009.2,1518.7 L1009.9,1517.7 L1010.6,1516.7 L1011.3,1515.7 L1012.0,1514.7 L1012.7,1513.7 L1013.4,1512.7 L1014.1,1511.7 L1014.8,1510.7 L1015.5,1509.6 L1016.2,1508.6 L1016.9,1507.5 L1017.6,1506.5 L1018.3,1505.4 L1019.0,1504.4 L1019.7,1503.3 L1020.4,1502.3 L1021.1,1501.2 L1021.8,1500.1 L1022.5,1499.1 L1023.2,1498.0 L1023.9,1497.0 L1024.6,1495.9 L1025.3,1494.9 L1026.0,1493.8 L1026.7,1492.8 L1027.4,1491.8 L1028.1,1490.7 L1028.8,1489.7 L1029.5,1488.7 L1030.2,1487.6 L1030.9,1486.6 L1031.6,1485.6 L1032.3,1484.6 L1033.0,1483.6 L1033.7,1482.6 L1034.4,1481.6 L1035.1,1480.6 L1035.8,1479.6 L1036.5,1478.6 L1037.2,1477.6 L1037.9,1476.7 L1038.6,1475.7 L1039.3,1474.7 L1040.0,1473.8 L1040.7,1472.8 L1041.4,1471.9 L1042.1,1470.9 L1042.8,1470.0 L1043.5,1469.1 L1044.2,1468.1 L1044.9,1467.2 L1045.6,1466.3 L1046.3,1465.4 L1047.0,1464.5 L1047.7,1463.6 L1048.4,1462.7 L1049.1,1461.8 L1049.8,1460.9 L1050.5,1460.0 L1051.2,1459.2 L1051.9,1458.3 L1052.6,1457.5 L1053.3,1456.6 L1054.0,1455.8 L1054.7,1454.9 L1055.4,1454.1 L1056.1,1453.2 L1056.8,1452.4 L1057.5,1451.6 L1058.2,1450.8 L1058.9,1450.0 L1059.6,1449.2 L1060.3,1448.4 L1061.0,1447.6 L1061.7,1446.8 L1062.4,1446.0 L1063.1,1445.2 L1063.8,1444.4 L1064.5,1443.7 L1065.2,1442.9 L1065.9,1442.1 L1066.6,1441.4 L1067.3,1440.6 L1068.0,1439.9 L1068.7,1439.1 L1069.4,1438.4 L1070.1,1437.7 L1070.8,1436.9 L1071.5,1436.2 L1072.2,1435.5 L1072.9,1434.8 L1073.6,1434.1 L1074.3,1433.4 L1075.0,1432.7 L1075.7,1432.0 L1076.4,1431.3 L1077.1,1430.6 L1077.8,1429.9 L1078.5,1429.2 L1079.1,1428.6 L1079.8,1427.9 L1080.5,1427.2 L1081.2,1426.6 L1081.9,1425.9 L1082.6,1425.3 L1083.3,1424.6 L1084.0,1424.0 L1084.7,1423.3 L1085.4,1422.7 L1086.1,1422.1 L1086.8,1421.4 L1087.5,1420.8 L1088.2,1420.2 L1088.9,1419.6 L1089.6,1419.0 L1090.3,1418.4 L1091.0,1417.8 L1091.7,1417.2 L1092.4,1416.6 L1093.1,1416.0 L1093.8,1415.4 L1094.5,1414.8 L1095.2,1414.2 L1095.9,1413.6 L1096.6,1413.0 L1097.3,1412.5 L1098.0,1411.9 L1098.7,1411.3 L1099.4,1410.8 L1100.1,1410.2 L1100.8,1409.7 L1101.5,1409.1 L1102.2,1408.6 L1102.9,1408.0 L1103.6,1407.5 L1104.3,1406.9 L1105.0,1406.4 L1105.7,1405.9 L1106.4,1405.3 L1107.1,1404.8 L1107.8,1404.3 L1108.5,1403.8 L1109.2,1403.3 L1109.9,1402.7 L1110.6,1402.2 L1111.3,1401.7 L1112.0,1401.2 L1112.7,1400.7 L1113.4,1400.2 L1114.1,1399.7 L1114.8,1399.2 L1115.5,1398.7 L1116.2,1398.2 L1116.9,1397.8 L1117.6,1397.3 L1118.3,1396.8 L1119.0,1396.3 L1119.7,1395.8 L1120.4,1395.4 L1121.1,1394.9 L1121.8,1394.4 L1122.5,1394.0 L1123.2,1393.5 L1123.9,1393.0 L1124.6,1392.6 L1125.3,1392.1 L1126.0,1391.7 L1126.7,1391.2 L1127.4,1390.8 L1128.1,1390.3 L1135.1,1386.0 L1142.1,1382.0 L1149.0,1378.1 L1156.0,1374.4 L1163.0,1370.9 L1170.0,1367.6 L1177.0,1364.4 L1184.0,1361.3 L1191.0,1358.5 L1198.0,1355.7 L1205.0,1353.0 L1212.0,1350.5 L1219.0,1348.1 L1225.9,1345.7 L1232.9,1343.5 L1239.9,1341.3 L1246.9,1339.2 L1253.9,1337.3 L1260.9,1335.3 L1267.9,1333.5 L1274.9,1331.7 L1281.9,1330.0 L1288.8,1328.3 L1295.8,1326.7 L1302.8,1325.2 L1309.8,1323.7 L1316.8,1322.2 L1323.8,1320.8 L1330.8,1319.5 L1337.8,1318.1 L1344.8,1316.9 L1351.8,1315.6 L1358.8,1314.4 L1365.7,1313.3 L1372.7,1312.1 L1379.7,1311.0 L1386.7,1310.0 L1393.7,1308.9 L1400.7,1307.9 L1407.7,1306.9 L1414.7,1306.0 L1421.7,1305.0 L1428.6,1304.1 L1435.6,1303.3 L1442.6,1302.4 L1449.6,1301.6 L1456.6,1300.8 L1463.6,1300.0 L1470.6,1299.2 L1477.6,1298.4 L1484.6,1297.7 L1491.6,1297.0 L1498.5,1296.3 L1505.5,1295.6 L1512.5,1294.9 L1519.5,1294.2 L1526.5,1293.6 L1533.5,1293.0 L1540.5,1292.4 L1547.5,1291.8 L1554.5,1291.2 L1561.5,1290.6 L1568.5,1290.0 L1575.4,1289.5 L1582.4,1288.9 L1589.4,1288.4 L1596.4,1287.9 L1603.4,1287.4 L1610.4,1286.9 L1617.4,1286.4 L1624.4,1285.9 L1631.4,1285.5 L1638.3,1285.0 L1645.3,1284.5 L1652.3,1284.1 L1659.3,1283.7 L1666.3,1283.2 L1673.3,1282.8 L1680.3,1282.4 L1687.3,1282.0 L1694.3,1281.6 L1701.3,1281.2 L1708.2,1280.9 L1715.2,1280.5 L1722.2,1280.1 L1729.2,1279.8 L1736.2,1279.4 L1743.2,1279.1 L1750.2,1278.7 L1757.2,1278.4 L1764.2,1278.1 L1771.2,1277.7 L1778.1,1277.4 L1785.1,1277.1 L1792.1,1276.8 L1799.1,1276.5 L1806.1,1276.2 L1813.1,1275.9 L1820.1,1275.6 L1827.1,1275.3 L1834.1,1275.0 L1841.1,1274.8 L1848.0,1274.5 L1855.0,1274.2 L1862.0,1274.0 L1869.0,1273.7 L1876.0,1273.4 L1883.0,1273.2 L1890.0,1272.9 L1897.0,1272.7 L1904.0,1272.5 L1911.0,1272.2 L1918.0,1272.0 L1924.9,1271.8 L1931.9,1271.5 L1938.9,1271.3 L1945.9,1271.1 L1952.9,1270.9 L1959.9,1270.7 L1966.9,1270.4 L1973.9,1270.2 L1980.9,1270.0 L1987.8,1269.8 L1994.8,1269.6 L2001.8,1269.4 L2008.8,1269.2 L2015.8,1269.0 L2022.8,1268.9 L2029.8,1268.7 L2036.8,1268.5 L2043.8,1268.3 L2050.8,1268.1 L2057.8,1267.9 L2064.7,1267.8 L2071.7,1267.6 L2078.7,1267.4 L2085.7,1267.3 L2092.7,1267.1 L2099.7,1266.9 L2106.7,1266.8 L2113.7,1266.6 L2120.7,1266.5 L2127.6,1266.3 L2134.6,1266.1 L2141.6,1266.0 L2148.6,1265.8 L2155.6,1265.7 L2162.6,1265.6"/>
<rect x="344.6" y="232.5" width="1817.9" height="1301.95" fill="none" stroke="#000" stroke-width="5.0"/>
<path class="g" d="M797.3,772V659"/><path class="g" stroke-width="13" d="M781.3,709.6L797.3,659.3L813.3,709.6" style="stroke-width:13"/>
<path class="g" d="M958.9,404V517.5"/><path class="g" d="M943,467.3L958.9,517.5L974.8,467.3" style="stroke-width:13"/>
<rect x="1291" y="466.8" width="171.7" height="14.2" rx="3.5" fill="#ff0000"/>
<rect x="1291" y="558.5" width="171.7" height="14.2" rx="3.5" fill="#0000ff"/>
<text transform="translate(432.76,1634.70) scale(0.9950,1.0300)">400</text>
<text transform="translate(711.61,1634.70) scale(0.9950,1.0300)">600</text>
<text transform="translate(991.46,1634.70) scale(0.9950,1.0300)">800</text>
<text transform="translate(1252.65,1634.70) scale(1.0000,1.0300)">1000</text>
<text transform="translate(1532.25,1634.70) scale(1.0000,1.0300)">1200</text>
<text transform="translate(1811.85,1634.70) scale(1.0000,1.0300)">1400</text>
<text transform="translate(2091.45,1634.70) scale(1.0000,1.0300)">1600</text>
<text transform="translate(272.48,1561.05) scale(1.0500,1.0300)">0</text>
<text transform="translate(221.43,1300.66) scale(1.0200,1.0300)">0.2</text>
<text transform="translate(218.37,1040.27) scale(1.0200,1.0300)">0.4</text>
<text transform="translate(219.39,779.88) scale(1.0200,1.0300)">0.6</text>
<text transform="translate(219.90,519.49) scale(1.0200,1.0300)">0.8</text>
<text transform="translate(219.90,259.10) scale(1.0200,1.0300)">1.0</text>
<text transform="translate(1065.96,89.20) scale(1.0363,1.0200)" class="b">Ref.</text>
<text transform="translate(1208.33,89.20) scale(1.1145,1.0200)" class="b">zb</text>
<text transform="translate(1303.17,89.20) scale(1.0669,1.0200)" class="b">GeC</text>
<text transform="translate(995.18,1822.30) scale(1.0190,1.0240)" class="b">Frequency</text>
<text transform="translate(1338.06,1822.30) scale(1.0129,1.0240)" class="b">(cm</text>
<text transform="translate(1451.46,1777.10) scale(1.0286,1.0350)" class="s">-1</text>
<text transform="translate(1492.64,1822.30) scale(0.9429,1.0240)" class="b">)</text>
<text transform="translate(106.80,1061.60) rotate(-90) scale(1.0467,1.0150)" x="-1.00" y="0" class="b">Reflectivity</text>
<text transform="translate(1507.65,495.70) scale(1.0971,1.1650)" class="i">η</text>
<text transform="translate(1562.65,499.10) scale(1.0154,0.9500)" class="b">=</text>
<text transform="translate(1616.01,498.00) scale(0.9952,1.0300)" class="b">0.5</text>
<text transform="translate(0,498.00) scale(0.9300,1.0300)" x="1850.40 1892.31 1927.73 1966.92" y="0" class="b">E+19</text>
<text transform="translate(1881.05,498.00) scale(1.0187,1.0300)" class="b">cm</text>
<text transform="translate(1971.87,451.40) scale(1.0222,1.0350)" class="s">-3</text>
<text transform="translate(1507.65,585.70) scale(1.0971,1.1650)" class="i">η</text>
<text transform="translate(1562.65,589.10) scale(1.0154,0.9500)" class="b">=</text>
<text transform="translate(1616.00,588.00) scale(1.0012,1.0300)" class="b">0.0</text>
<text transform="translate(995.35,329.40) scale(1.1516,1.1900)" class="b">ω</text>
<text transform="translate(1047.99,364.20) scale(1.0093,1.0400)" class="s">LO</text>
<text transform="translate(793.45,903.40) scale(1.1495,1.1900)" class="b">ω</text>
<text transform="translate(844.45,939.20) scale(1.0984,1.0400)" class="s">TO</text>
</svg></body></html>
